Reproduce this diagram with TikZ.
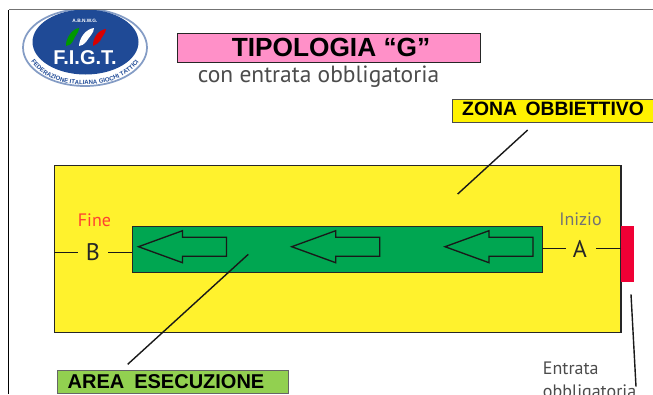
\documentclass[tikz,border=0pt]{standalone}
\usepackage{fontspec}
\setmainfont{Liberation Sans}
\newfontfamily\thinf{PT Sans}
\usetikzlibrary{shapes.geometric,decorations.text}
\definecolor{yel}{HTML}{FFF22D}
\definecolor{grn}{HTML}{00A651}
\definecolor{lgrn}{HTML}{92D050}
\definecolor{pnk}{HTML}{FF90C8}
\definecolor{rd}{HTML}{F00035}
\definecolor{blu}{HTML}{1F4A96}
\definecolor{finec}{HTML}{FF4030}
\tikzset{x=0.75pt,y=-0.75pt,
 box/.style={draw=black!85,line width=1.1pt,inner sep=0pt,anchor=north west},
 lab/.style={font=\thinf,text=black!70,inner sep=0pt},
 lead/.style={draw=black!90,line width=1.05pt},
 arrowshape/.style={draw=black!90,line width=1pt,fill=grn}}
\newcommand{\blockarrow}[1]{\draw[arrowshape,shift={(#1,0)}] (0,246.7) -- (44,230.7) -- (44,237.3) -- (88,237.3) -- (88,256.3) -- (44,256.3) -- (44,262.7) -- cycle;}
\begin{document}
\begin{tikzpicture}
\useasboundingbox (0,0) rectangle (653,394);
\fill[white] (0,0) rectangle (653,394);
% frame
\draw[black!55,line width=1.3pt] (8.5,9.5) -- (653,9.5);
\draw[black,line width=1pt] (8.5,394) -- (8.5,10);
% yellow zone
\node[box,fill=yel,minimum width=425pt,minimum height=125pt] (zona) at (53.5,165) {};
% entrance
\node[inner sep=0pt,fill=rd,anchor=north west,minimum width=10pt,minimum height=42pt] (ent) at (620.7,226) {};
% exec area
\node[box,fill=grn,minimum width=307.5pt,minimum height=34.5pt] (area) at (132,225.5) {};
\blockarrow{138.5}
\blockarrow{291.7}
\blockarrow{445}
% letters
\node[font=\thinf\fontsize{18}{20}\selectfont,text=black!85,inner sep=0pt] (B) at (93,252.5) {B};
\node[font=\thinf\fontsize{18}{20}\selectfont,text=black!85,inner sep=0pt] (A) at (580,249) {A};
\node[lab,font=\thinf\fontsize{13.5}{15}\selectfont,text=finec] (fine) at (94.5,220) {Fine};
\node[lab,font=\thinf\fontsize{13.5}{15}\selectfont,text=black!55] (inizio) at (580.5,219.5) {Inizio};
\coordinate (bl) at (54,252.5); \coordinate (ar) at (620.7,248.5);
\coordinate (al) at (542,248.5);
\draw[lead] (bl) -- (78,252.5);
\draw[lead] (108,252.5) -- (132,252.5);
\draw[lead] (al) -- (566,248.5);
\draw[lead] (596,248.5) -- (ar);
% title
\node[draw=black!85,line width=1pt,fill=pnk,anchor=north west,minimum width=227pt,minimum height=22pt,inner sep=0pt] (titolo) at (177,32.5) {};
\node[font=\bfseries\fontsize{19.7}{22}\selectfont,inner sep=0pt] at (331,47) {TIPOLOGIA “G”};
\node[font=\thinf\fontsize{17.6}{20}\selectfont,text=black!70,inner sep=0pt] (sub) at (318.5,76.5) {con entrata obbligatoria};
% labels
\node[draw=black!70,line width=1pt,fill=yellow,anchor=north west,minimum width=160pt,minimum height=17pt,inner sep=0pt] (zo) at (451.7,99) {};
\node[font=\bfseries\fontsize{14.5}{16}\selectfont,inner sep=0pt] at (553,109) {ZONA\hspace{.45em}OBBIETTIVO};
\node[draw=black!60,line width=1pt,fill=lgrn,anchor=north west,minimum width=173pt,minimum height=17pt,inner sep=0pt] (ae) at (57,370) {};
\node[font=\bfseries\fontsize{15}{17}\selectfont,inner sep=0pt] at (166,381.5) {AREA\hspace{.5em}ESECUZIONE};
\coordinate (z1) at (527.7,130); \coordinate (z2) at (457.7,194);
\draw[lead] (z1) -- (z2);
\coordinate (a1) at (248.3,254.3); \coordinate (a2) at (127.7,364.3);
\draw[lead] (a1) -- (a2);
\coordinate (e1) at (631,294.3); \coordinate (e2) at (636,386.7);
\draw[lead] (e1) -- (e2);
\node[lab,font=\thinf\fontsize{13.5}{15}\selectfont,anchor=base west] (entr1) at (542.7,374) {Entrata};
\node[lab,font=\thinf\fontsize{13.5}{15}\selectfont,anchor=base west] (entr2) at (542.7,397) {obbligatoria};
% logo
\begin{scope}
\clip (10,10.2) rectangle (160,100);
\fill[white] (85,47.5) circle [x radius=62, y radius=39];
\draw[blu!55,line width=1.3pt] (85,47.5) ellipse [x radius=62, y radius=38.5];
\fill[blu] (85.5,42) ellipse [x radius=53, y radius=32.5];
\end{scope}
\node[font=\bfseries\fontsize{3.6}{4}\selectfont,text=white,inner sep=0pt] (abn) at (85,20.5) {A.B.N.W.G.};
\fill[green!60!black] (66,45) .. controls (66,38) and (72,29) .. (79,28) .. controls (79,33) and (75,35) .. (73,41) .. controls (71,44) and (69,46) .. (66,46) -- cycle;
\fill[white] (79,45) .. controls (80,37) and (86,29) .. (94,28) .. controls (94,33) and (89,37) .. (86,42) .. controls (84,44) and (82,46) .. (79,46) -- cycle;
\fill[red!85!black] (93,45) .. controls (93,38) and (98,30) .. (106,29) .. controls (106,33) and (102,36) .. (100,41) .. controls (98,43) and (96,45) .. (93,46) -- cycle;
\node[font=\bfseries\fontsize{15}{15}\selectfont,text=white,inner sep=0pt,text height=9pt,text depth=0pt] (figt) at (85,58.5) {F.I.G.T.};
\path[decorate,decoration={text along path,text align=center,text={|\bfseries\fontsize{4.55}{6}\selectfont\color{blu}|FEDERAZIONE ITALIANA GIOCHI TATTICI}}]
 (27,54) .. controls (43,95) and (127,95) .. (143,54);
\end{tikzpicture}
\end{document}
